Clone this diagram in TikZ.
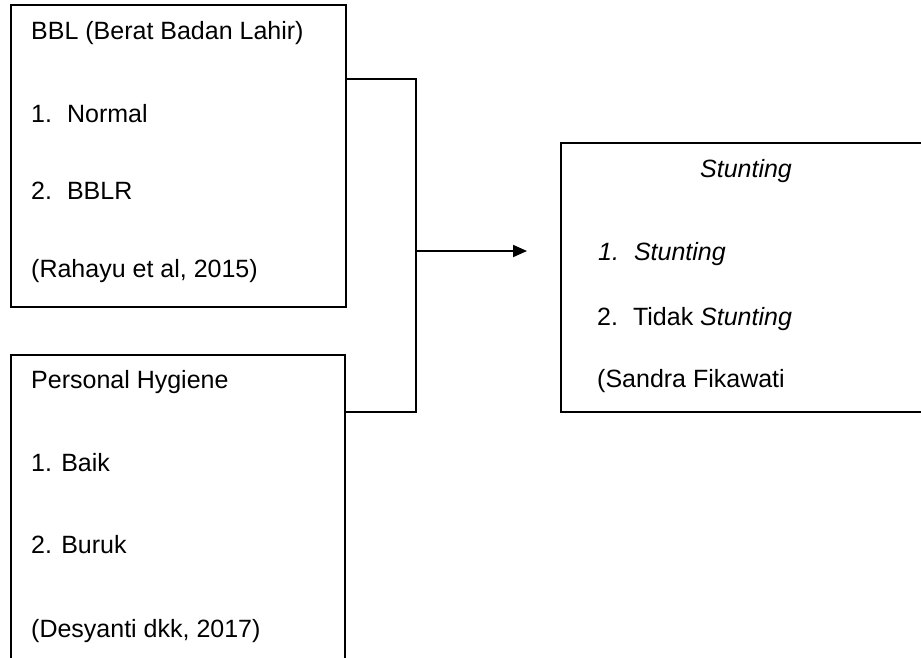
\documentclass[tikz,border=0pt]{standalone}
\usepackage{fontspec}
\setmainfont{Liberation Sans}
\usetikzlibrary{arrows.meta}
\begin{document}
\begin{tikzpicture}[x=1pt,y=-1pt,
  boxstyle/.style={draw=black,line width=1.8pt,inner sep=0pt,outer sep=0pt},
  txt/.style={anchor=base west,inner sep=0pt,font=\fontsize{25}{30}\selectfont},
  ctxt/.style={anchor=base,inner sep=0pt,font=\fontsize{25}{30}\selectfont},
  conn/.style={draw=black,line width=1.8pt},
  arr/.style={conn,-{Triangle[length=14pt,width=12pt]}}]
\useasboundingbox (0,0) rectangle (921,657);
\fill[white] (0,0) rectangle (921,657);
\clip (0,0) rectangle (921,657);
% boxes
\node[boxstyle,minimum width=335pt,minimum height=302pt] (b1) at (178.5,156) {};
\node[boxstyle,minimum width=334pt,minimum height=330pt] (b2) at (178,520) {};
\node[boxstyle,minimum width=389pt,minimum height=269pt] (b3) at (755.5,277.5) {};
% texts box 1
\node[txt] (t11) at (31,39) {BBL (Berat Badan Lahir)};
\node[txt] (t12) at (31,122) {1.\hspace{15pt}Normal};
\node[txt] (t13) at (31,199) {2.\hspace{15pt}BBLR};
\node[txt] (t14) at (31,277) {(Rahayu et al, 2015)};
% texts box 2
\node[txt] (t21) at (31,388) {Personal Hygiene};
\node[txt] (t22) at (31,471) {1. Baik};
\node[txt] (t23) at (31,553) {2. Buruk};
\node[txt] (t24) at (31,637) {(Desyanti dkk, 2017)};
% texts box 3
\node[ctxt] (t31) at (746,177) {\itshape Stunting};
\node[txt] (t32) at (598,260) {\itshape 1.\hspace{15pt}Stunting};
\node[txt] (t33) at (597,325) {2.\hspace{15pt}Tidak \textit{Stunting}};
\node[txt] (t34) at (597,387) {(Sandra Fikawati};
% connectors
\coordinate (j1) at ([yshift=-74pt]b1.north east);
\coordinate (bus1) at (416,79);
\coordinate (bus2) at (416,412);
\coordinate (busm) at (416,251);
\coordinate (tipend) at (527,251);
\draw[conn] (j1) -- (bus1) -- (bus2) -- (b2.east |- bus2);
\draw[arr] (busm) -- (tipend);
\end{tikzpicture}
\end{document}
